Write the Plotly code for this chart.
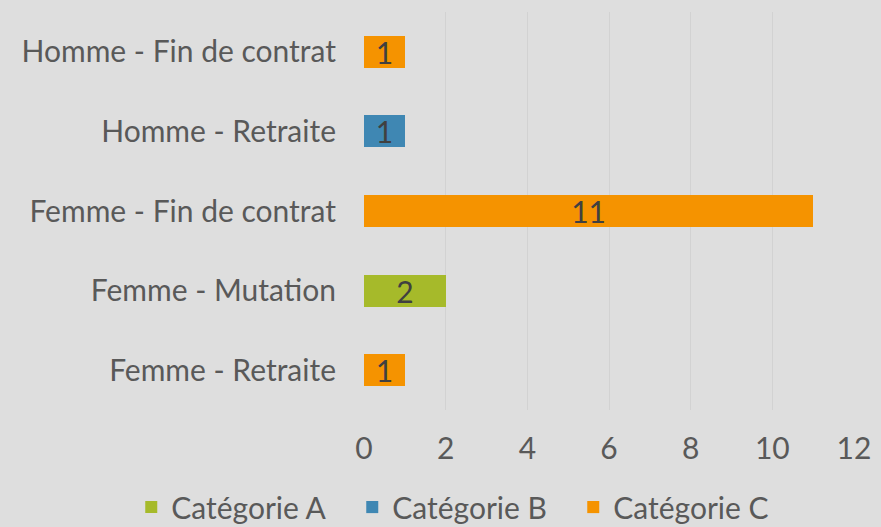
import plotly.graph_objects as go

categories = ["Femme - Retraite", "Femme - Mutation", "Femme - Fin de contrat",
              "Homme - Retraite", "Homme - Fin de contrat"]
cat_a = [None, 2, None, None, None]
cat_b = [None, None, None, 1, None]
cat_c = [1, None, 11, None, 1]
series = [("Catégorie A", cat_a, "#A6BA2A"),
          ("Catégorie B", cat_b, "#3F87B3"),
          ("Catégorie C", cat_c, "#F59300")]
x_ticks = [0, 2, 4, 6, 8, 10, 12]

FONT = "Lato"
TXT = "#595959"
FS = 30

fig = go.Figure()
for name, vals, col in series:
    fig.add_trace(go.Bar(
        y=categories, x=vals, name=name, orientation="h",
        marker=dict(color=col, line=dict(width=0)),
        width=0.4,
        text=[("" if v is None else str(v)) for v in vals],
        textposition="inside", insidetextanchor="middle", textangle=0,
        constraintext="none",
        textfont=dict(family=FONT, size=FS, color="#404040"),
        hoverinfo="skip", cliponaxis=False,
    ))

fig.update_layout(
    barmode="stack",
    width=881, height=527,
    paper_bgcolor="#DEDEDE", plot_bgcolor="#DEDEDE",
    margin=dict(l=364, r=27, t=12, b=117, autoexpand=False),
    font=dict(family=FONT, size=FS, color=TXT),
    showlegend=True,
    legend=dict(orientation="h", xref="paper", yref="paper",
                x=-0.475, y=-0.244, xanchor="left", yanchor="middle",
                font=dict(family=FONT, size=FS, color=TXT),
                itemwidth=30, entrywidth=176, tracegroupgap=0,
                traceorder="normal", bgcolor="rgba(0,0,0,0)"),
)
fig.update_xaxes(range=[0, 12], tickvals=x_ticks, showgrid=True,
                 gridcolor="#D2D2D2", gridwidth=1, zeroline=False,
                 showline=False, ticklabelstandoff=18,
                 tickfont=dict(family=FONT, size=FS, color=TXT))
fig.update_yaxes(categoryorder="array", categoryarray=categories,
                 showgrid=False, zeroline=False, showline=False,
                 ticklabelstandoff=27,
                 tickfont=dict(family=FONT, size=FS, color=TXT))

fig.write_html("out.html", config={"displayModeBar": False},
               post_script="document.body.style.margin='0';")
